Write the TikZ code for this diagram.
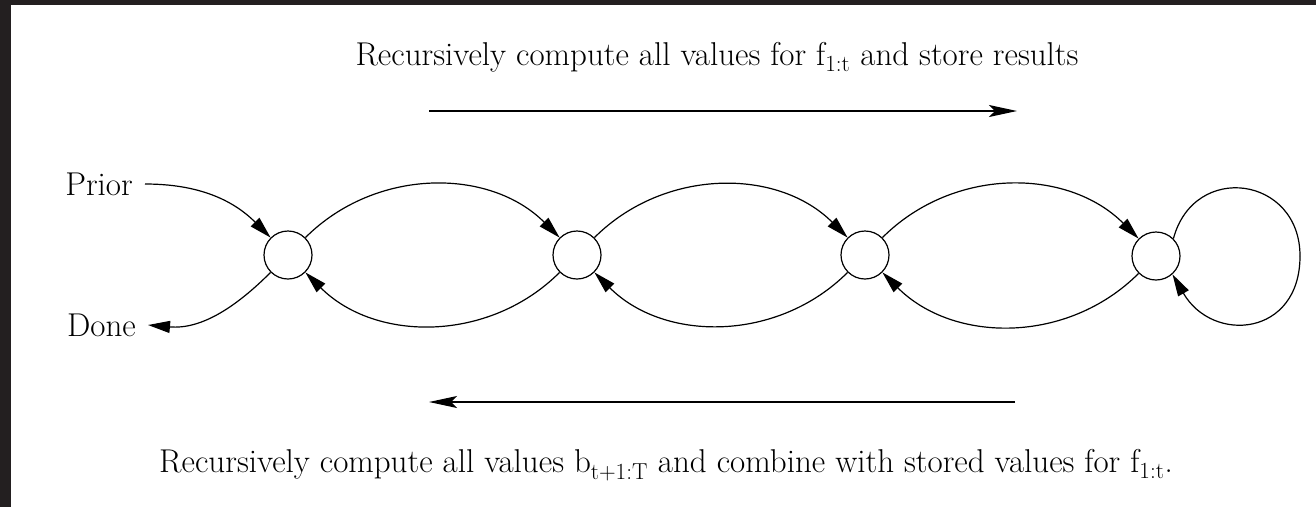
\documentclass[tikz,border=0pt]{standalone}
\usepackage{tikz}
\usetikzlibrary{arrows.meta,calc,positioning}
\definecolor{FrameDark}{RGB}{35,31,32}

\begin{document}
\begin{tikzpicture}[x=1pt, y=-1pt, font=\fontsize{33}{38}\selectfont,
  state/.style={draw, circle, minimum size=48pt, inner sep=0pt, line width=1.2pt},
  label/.style={inner xsep=12pt, inner ysep=0pt},
  edge/.style={line width=1.2pt, -{Triangle[length=22pt, width=12pt]}},
  sweep/.style={line width=1.3pt, -{Stealth[length=28pt, width=12pt, inset=6pt]}}]
  % Frame and canvas
  \fill[FrameDark] (0,0) rectangle (1316,507);
  \fill[white] (11,5) rectangle (1316,507);
  \useasboundingbox (0,0) rectangle (1316,507);

  % States of the chain
  \node[state] (s1) at (288,255) {};
  \node[state] (s2) at (577,255) {};
  \node[state] (s3) at (865,255) {};
  \node[state] (s4) at (1156,256) {};

  % Entry and exit labels
  \node[label, anchor=east] (prior) at (145,184) {Prior};
  \node[label, anchor=east] (done) at (148,325) {Done};
  \draw[edge] (prior.east) to[out=0, in=135] (s1);
  \draw[edge] (s1) to[out=225, in=-5] (done.east);

  % Forward and backward arcs
  \foreach \a/\b in {s1/s2, s2/s3, s3/s4}{
    \draw[edge] (\a) to[out=45, in=135] (\b);
    \draw[edge] (\b) to[out=225, in=-45] (\a);
  }

  % Self loop on the last state
  \coordinate (loopR) at (1300,256);
  \draw[line width=1.2pt] (s4.45) to[out=75, in=90, looseness=1.6] (loopR);
  \draw[edge] (loopR) to[out=-90, in=-60, looseness=1.6] (s4.-48);

  % Sweep directions
  \coordinate (fwdA) at (429,111);
  \coordinate (fwdB) at (1017,111);
  \coordinate (bwdA) at (1015,402);
  \coordinate (bwdB) at (429,402);
  \draw[sweep] (fwdA) -- (fwdB);
  \draw[sweep] (bwdA) -- (bwdB);

  % Captions
  \node[anchor=base] (fwdtext) at (717,65)
    {Recursively compute all values for f\textsubscript{1:t} and store results};
  \node[anchor=base] (bwdtext) at (666,472)
    {Recursively compute all values b\textsubscript{t+1:T} and combine with stored values for f\textsubscript{1:t}.};
\end{tikzpicture}
\end{document}
